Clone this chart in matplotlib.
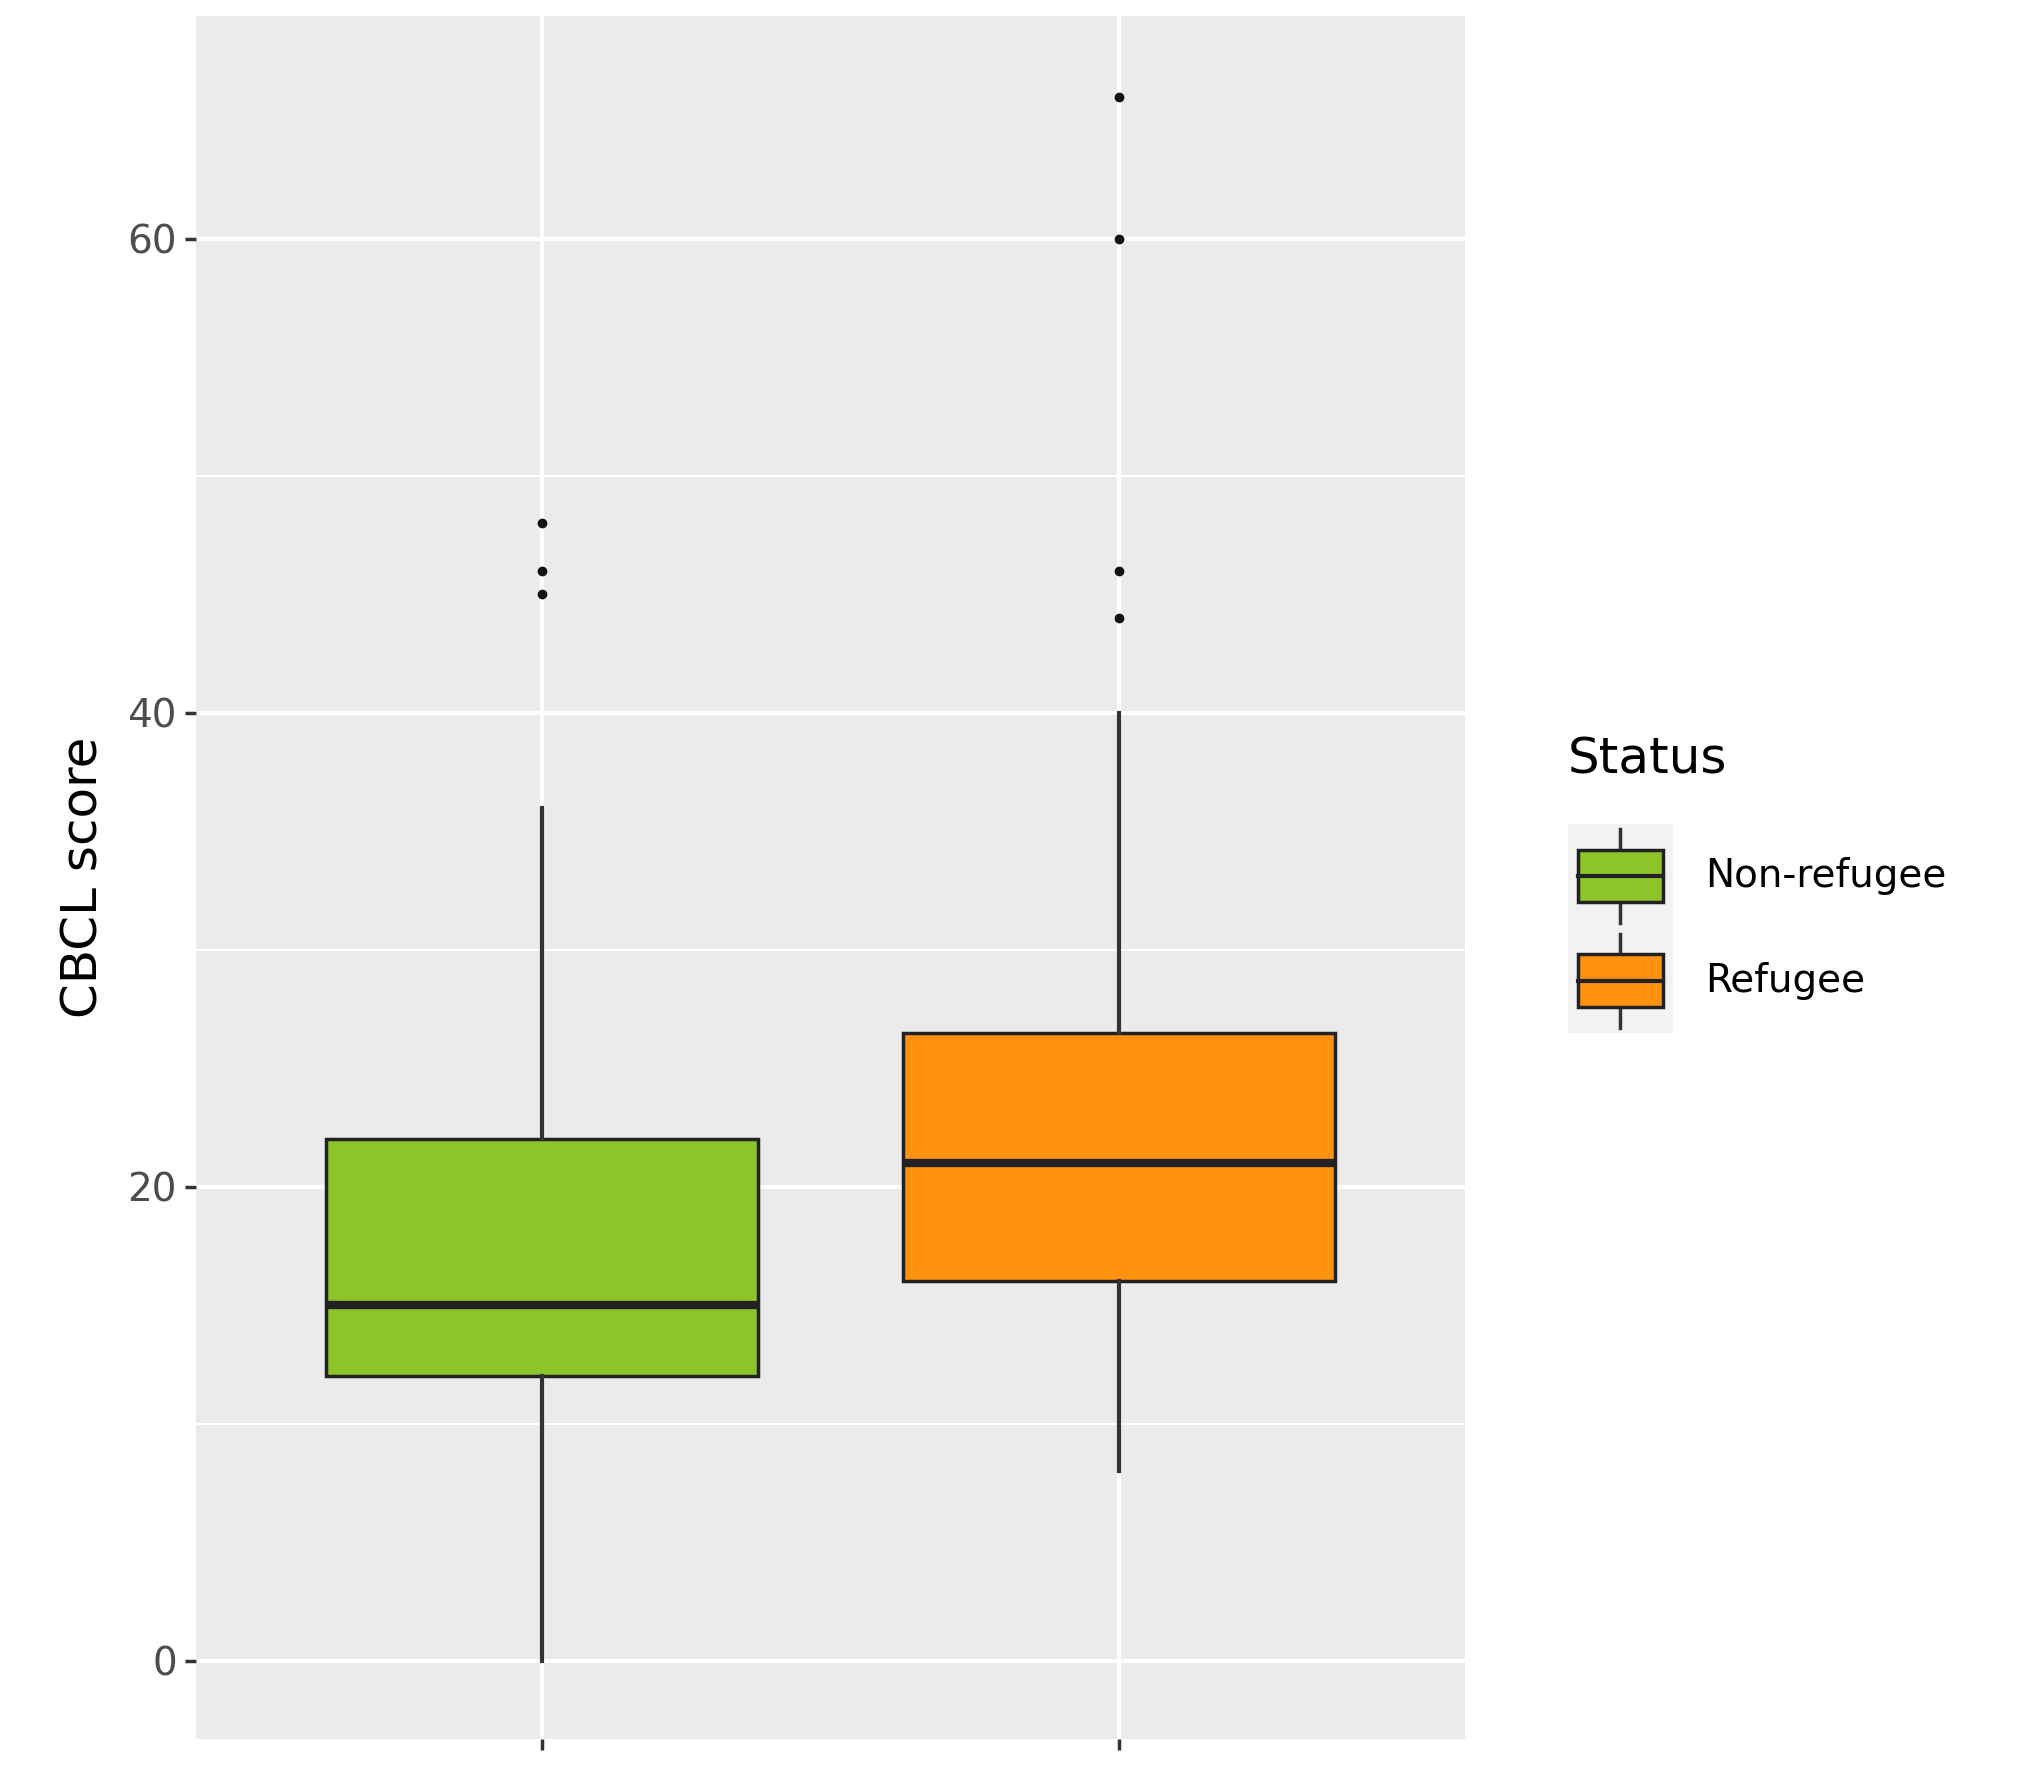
import matplotlib
matplotlib.use("Agg")
import matplotlib.pyplot as plt
from matplotlib.patches import Rectangle

# values
groups = ["Non-refugee", "Refugee"]
colors = ["#8CC42A", "#FF930F"]
whislo = [0, 8]
q1 = [12, 16]
med = [15, 21]
q3 = [22, 26.5]
whishi = [36, 40]
fliers = [[45, 46, 48], [44, 46, 60, 66]]

fig = plt.figure(figsize=(20.23, 17.87), dpi=100)
ax = fig.add_axes([0.097, 0.027, 0.627, 0.964])
ax.set_facecolor("#EBEBEB")

stats = []
for i, g in enumerate(groups):
    stats.append(dict(label=g, whislo=whislo[i], q1=q1[i], med=med[i],
                      q3=q3[i], whishi=whishi[i], fliers=fliers[i]))

ax.set_axisbelow(True)
ax.set_yticks([10, 30, 50], minor=True)
ax.grid(which="major", color="white", lw=3)
ax.grid(which="minor", axis="y", color="white", lw=1.5)

bp = ax.bxp(stats, positions=[1, 2], widths=0.75, patch_artist=True,
            showcaps=False,
            boxprops=dict(edgecolor="#222222", lw=2.5),
            whiskerprops=dict(color="#333333", lw=3),
            medianprops=dict(color="#222222", lw=6),
            flierprops=dict(marker="o", markerfacecolor="#111111",
                            markeredgecolor="#111111", markersize=6))
for patch, c in zip(bp["boxes"], colors):
    patch.set_facecolor(c)

ax.set_xlim(0.4, 2.6)
ax.set_ylim(-3.3, 69.4)
ax.set_yticks([0, 20, 40, 60])
ax.set_xticks([1, 2])
ax.set_xticklabels(["", ""])
for s in ax.spines.values():
    s.set_visible(False)
ax.tick_params(axis="both", length=8, width=2.5, color="#333333",
               labelsize=28, labelcolor="#4D4D4D", pad=6)
ax.tick_params(axis="y", which="minor", length=0)
ax.set_ylabel("CBCL score", fontsize=36, labelpad=14)

# legend
fig.text(0.775, 0.575, "Status", fontsize=36, va="center")
lax = fig.add_axes([0.775, 0.422, 0.052, 0.117])
lax.set_facecolor("#F2F2F2")
lax.set_xlim(0, 1)
lax.set_ylim(0, 2)
lax.axis("off")
lax.add_patch(Rectangle((0, 0), 1, 2, color="#F2F2F2", zorder=0))
for k, c in enumerate(colors):
    yc = 1.5 - k
    lax.plot([0.5, 0.5], [yc - 0.45, yc + 0.45], color="#333333", lw=2.5)
    lax.add_patch(Rectangle((0.1, yc - 0.25), 0.8, 0.5, facecolor=c,
                            edgecolor="#222222", lw=2.5, zorder=3))
    lax.plot([0.1, 0.9], [yc, yc], color="#222222", lw=3, zorder=4)
    fig.text(0.843, 0.539 - 0.117 * (0.25 + 0.5 * k), groups[k],
             fontsize=28, va="center")

fig.savefig("out.png", dpi=100)
